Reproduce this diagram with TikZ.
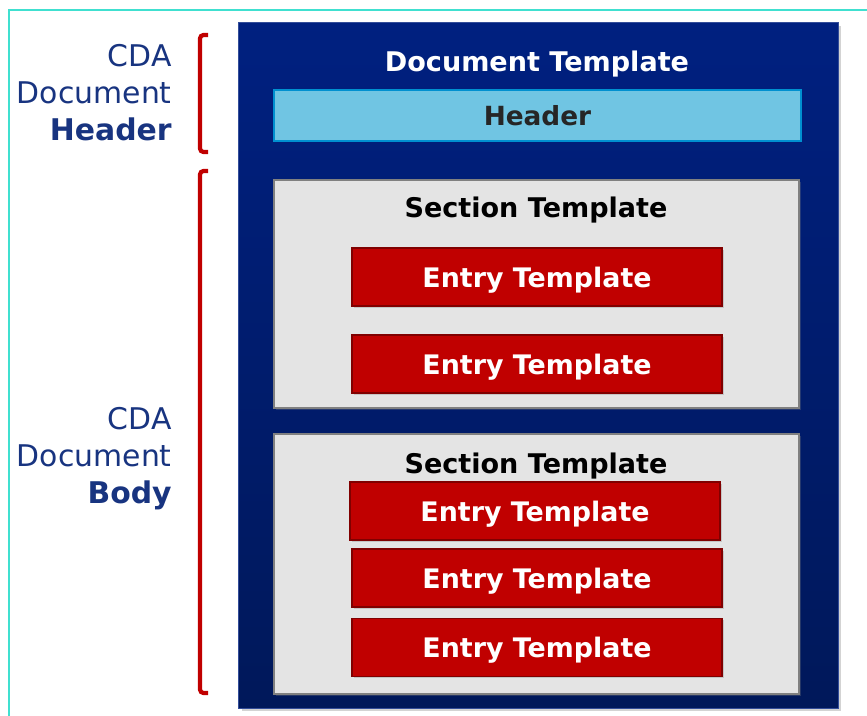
\documentclass[tikz,border=0pt]{standalone}
\usepackage{fontspec}
\setmainfont{DejaVu Sans}
\newfontfamily\sidefont{DejaVu Sans}
\usepackage{xcolor}
\usepackage{tikz}
\usetikzlibrary{shadows}
\definecolor{doctop}{RGB}{0,32,128}
\definecolor{docbot}{RGB}{0,24,90}
\definecolor{hdrfill}{RGB}{112,197,227}
\definecolor{hdrline}{RGB}{0,144,208}
\definecolor{secfill}{RGB}{228,228,228}
\definecolor{entfill}{RGB}{192,0,0}
\definecolor{entline}{RGB}{128,0,0}
\definecolor{sidetext}{RGB}{24,52,128}
\definecolor{framecol}{RGB}{64,224,208}
\tikzset{
  docbox/.style  ={rectangle,top color=doctop,bottom color=docbot,draw=doctop!80!white,
                   minimum width=12cm,minimum height=13.72cm,drop shadow={opacity=0.35,shadow xshift=2pt,shadow yshift=-2pt}},
  hdrbox/.style  ={rectangle,fill=hdrfill,draw=hdrline,line width=1.5pt,minimum width=10.54cm,text depth=0pt,
                   minimum height=1.02cm,font=\bfseries\fontsize{15}{17}\selectfont,text=black!85},
  secbox/.style  ={rectangle,fill=secfill,draw=gray,line width=1.5pt,minimum width=10.5cm,
                   drop shadow={opacity=0.3,shadow xshift=1pt,shadow yshift=-1pt}},
  entbox/.style  ={rectangle,fill=entfill,draw=entline,line width=0.8pt,minimum width=7.4cm,minimum height=1.16cm,
                   text=white,text depth=0pt,font=\bfseries\fontsize{15.3}{17}\selectfont,
                   drop shadow={opacity=0.3,shadow xshift=1pt,shadow yshift=-1pt}},
  ttl/.style     ={text depth=0pt,font=\bfseries\fontsize{15.4}{17}\selectfont},
  sidelbl/.style ={anchor=east,align=right,inner sep=0pt,text=sidetext,font=\sidefont\fontsize{17}{21}\selectfont},
  brace/.style   ={draw=entfill,line width=2.4pt,rounded corners=2pt},
}
\begin{document}
\begin{tikzpicture}[x=0.02cm,y=-0.02cm]
  \useasboundingbox (0,0) rectangle (867,716);
  \draw[framecol,line width=1.3pt] (9,716) -- (9,10) -- (867,10);
  % template boxes
  \node[docbox](doc) at (538,365){};
  \node[ttl,text=white](doct) at (537,61){Document Template};
  \node[hdrbox](hdr) at (537.5,115.5){Header};
  \node[secbox,minimum height=4.56cm](sec1) at (536.5,294){};
  \node[ttl](sec1t) at (536,207){Section Template};
  \node[entbox](e1) at (537,277){Entry Template};
  \node[entbox](e2) at (537,364){Entry Template};
  \node[secbox,minimum height=5.2cm](sec2) at (536.5,564){};
  \node[ttl](sec2t) at (536,463){Section Template};
  \node[entbox](e3) at (535,511){Entry Template};
  \node[entbox](e4) at (537,578){Entry Template};
  \node[entbox](e5) at (537,647.5){Entry Template};
  % side labels
  \draw[brace] (208,35) -- (200,35) -- (200,152) -- (208,152);
  \draw[brace] (208,171) -- (200,171) -- (200,693) -- (208,693);
  \node[sidelbl](lhdr) at (172,93){CDA\\Document\\\textbf{Header}};
  \node[sidelbl](lbody) at (172,459){CDA\\Document\\\textbf{Body}};
\end{tikzpicture}
\end{document}
